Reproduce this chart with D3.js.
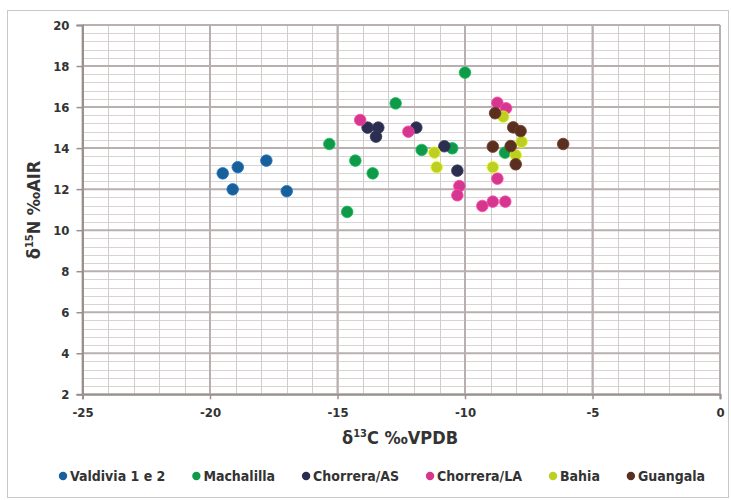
<!DOCTYPE html>
<html>
<head>
<meta charset="utf-8">
<script src="https://cdn.jsdelivr.net/npm/d3@7"></script>
<style>
  body { margin: 0; background: #fff; }
  svg { display: block; }
  .lab { font-family: "Liberation Sans Narrow", "DejaVu Sans Condensed", "Roboto", sans-serif; font-weight: bold; fill: #333; }
</style>
</head>
<body>
<svg id="chart" width="731" height="500"></svg>
<script>
// Series names and colours
const seriesNames = ["Valdivia 1 e 2", "Machalilla", "Chorrera/AS", "Chorrera/LA", "Bahia", "Guangala"];
const seriesColors = ["#18609c", "#0f9a4a", "#2b2e4e", "#d6378e", "#bccf22", "#5a2f20"];

// δ13C (x) and δ15N (y) values per series
const valdiviaX = [-19.50, -18.91, -19.11, -17.79, -16.99];
const valdiviaY = [12.77, 13.07, 11.99, 13.39, 11.90];
const machalillaX = [-15.32, -14.30, -13.62, -14.62, -12.72, -10.00, -11.70, -10.50, -8.43];
const machalillaY = [14.20, 13.39, 12.77, 10.89, 16.18, 17.68, 13.91, 13.99, 13.78];
const chorreraASX = [-13.82, -13.40, -13.49, -11.91, -10.81, -10.30];
const chorreraASY = [15.00, 15.00, 14.56, 15.00, 14.09, 12.90];
const chorreraLAX = [-14.11, -12.22, -10.22, -10.30, -9.32, -8.91, -8.42, -8.73, -8.73, -8.39];
const chorreraLAY = [15.37, 14.80, 12.15, 11.70, 11.18, 11.39, 11.39, 12.51, 16.21, 15.94];
const bahiaX = [-11.20, -11.11, -8.50, -7.78, -8.01, -8.91];
const bahiaY = [13.78, 13.07, 15.53, 14.31, 13.66, 13.07];
const guangalaX = [-8.82, -8.11, -7.82, -8.91, -8.21, -8.01, -6.15];
const guangalaY = [15.70, 15.01, 14.83, 14.07, 14.10, 13.21, 14.20];

const seriesX = [valdiviaX, machalillaX, chorreraASX, chorreraLAX, bahiaX, guangalaX];
const seriesY = [valdiviaY, machalillaY, chorreraASY, chorreraLAY, bahiaY, guangalaY];

// Axis ticks
const xTicks = [-25, -20, -15, -10, -5, 0];
const yTicks = [2, 4, 6, 8, 10, 12, 14, 16, 18, 20];

const svg = d3.select("#chart");

// Outer chart frame
svg.append("rect").attr("x", 7.5).attr("y", 10.5).attr("width", 721).attr("height", 487)
  .attr("fill", "#fff").attr("stroke", "#c8c8c8").attr("stroke-width", 1);

const plotL = 82.5, plotR = 720, plotT = 25, plotB = 394.3;
const x = d3.scaleLinear().domain([-25, 0]).range([plotL, plotR]);
const y = d3.scaleLinear().domain([2, 20]).range([plotB, plotT]);

const grid = svg.append("g");
// minor horizontal lines every 0.4
d3.range(2, 20.001, 0.4).forEach(v => {
  grid.append("line").attr("x1", plotL).attr("x2", plotR)
    .attr("y1", Math.round(y(v)) + 0.5).attr("y2", Math.round(y(v)) + 0.5)
    .attr("stroke", "#dad3d3").attr("stroke-width", 1);
});
// minor vertical lines every 1
d3.range(-25, 0.001, 1).forEach(v => {
  grid.append("line").attr("y1", plotT).attr("y2", plotB)
    .attr("x1", Math.round(x(v)) + 0.5).attr("x2", Math.round(x(v)) + 0.5)
    .attr("stroke", "#d2cccc").attr("stroke-width", 1);
});
// major horizontal lines
yTicks.forEach(v => {
  grid.append("line").attr("x1", plotL).attr("x2", plotR)
    .attr("y1", y(v)).attr("y2", y(v))
    .attr("stroke", "#b9afaf").attr("stroke-width", 2);
});
// major vertical lines
xTicks.forEach(v => {
  grid.append("line").attr("y1", plotT).attr("y2", plotB)
    .attr("x1", x(v)).attr("x2", x(v))
    .attr("stroke", "#b9afaf").attr("stroke-width", 2);
});

// Axes (plain hyphen for negatives)
const fmt = d => String(d);
const xAxis = d3.axisBottom(x).tickValues(xTicks).tickSize(5).tickPadding(7).tickFormat(fmt);
const yAxis = d3.axisLeft(y).tickValues(yTicks).tickSize(6).tickPadding(7).tickFormat(fmt);

const gx = svg.append("g").attr("transform", `translate(0,${plotB})`).call(xAxis);
const gy = svg.append("g").attr("transform", `translate(${plotL},0)`).call(yAxis);
[gx, gy].forEach(g => {
  g.select(".domain").attr("stroke", "#9a9090").attr("stroke-width", 2);
  g.selectAll(".tick line").attr("stroke", "#9a9090").attr("stroke-width", 1.5);
  g.selectAll(".tick text").attr("class", "lab").style("font-size", "13px").attr("fill", "#333");
});
gx.selectAll(".tick text").attr("dy", "0.85em");

// Axis titles
const xt = svg.append("text").attr("class", "lab").attr("x", 400).attr("y", 444)
  .attr("text-anchor", "middle").style("font-size", "18px");
xt.append("tspan").text("δ");
xt.append("tspan").attr("dy", -7).style("font-size", "11px").text("13");
xt.append("tspan").attr("dy", 7).text("C ‰VPDB");

const yt = svg.append("text").attr("class", "lab")
  .attr("transform", "translate(40,210) rotate(-90)")
  .attr("text-anchor", "middle").style("font-size", "18px");
yt.append("tspan").text("δ");
yt.append("tspan").attr("dy", -7).style("font-size", "11px").text("15");
yt.append("tspan").attr("dy", 7).text("N ‰AIR");

// Points
const plot = svg.append("g");
seriesNames.forEach((name, i) => {
  const pts = seriesX[i].map((vx, j) => [vx, seriesY[i][j]]);
  plot.selectAll(null).data(pts).enter().append("circle")
    .attr("cx", d => x(d[0])).attr("cy", d => y(d[1])).attr("r", 5.8)
    .attr("fill", seriesColors[i])
    .attr("stroke", d3.color(seriesColors[i]).brighter(0.6)).attr("stroke-width", 0.8);
});

// Legend: items laid out left to right with even gaps
const lg = svg.append("g");
let cursor = 59;
seriesNames.forEach((name, i) => {
  const item = lg.append("g").attr("transform", `translate(${cursor},0)`);
  item.append("circle").attr("cx", 4).attr("cy", 476).attr("r", 4.2).attr("fill", seriesColors[i]);
  const t = item.append("text").attr("class", "lab").attr("x", 11).attr("y", 480.8)
    .style("font-size", "14px").text(name);
  cursor += 11 + t.node().getComputedTextLength() + 27;
});
</script>
</body>
</html>
